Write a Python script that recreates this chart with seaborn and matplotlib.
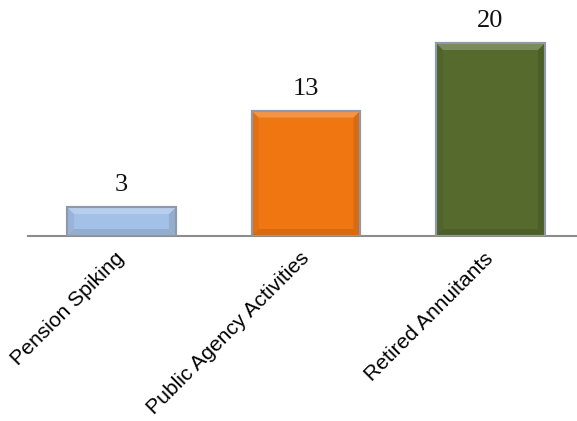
import matplotlib
matplotlib.use("Agg")
import matplotlib.pyplot as plt
import matplotlib.colors as mcolors
from matplotlib.patches import Polygon
import numpy as np
import seaborn as sns
import pandas as pd

categories = ["Pension Spiking", "Public Agency Activities", "Retired Annuitants"]
values = [3, 13, 20]
colors = ["#a3c0e6", "#f07612", "#566a2e"]

sns.set_theme(style="white")
plt.rcParams['font.family'] = ['Liberation Sans', 'DejaVu Sans']

df = pd.DataFrame({"category": categories, "value": values})

fig = plt.figure(figsize=(5.77, 4.21), dpi=100)
ax = fig.add_axes([28/577, (421-236)/421, 549/577, 236/421])

sns.barplot(data=df, x="category", y="value", hue="category", palette=colors,
            legend=False, width=0.59, ax=ax, edgecolor="#8e9aab", linewidth=1.5,
            saturation=1)

ax.set_xlim(-0.507, 2.469)
ax.set_ylim(0, 24.46)

# subtle bevel effect derived from drawn bar patches
fig.canvas.draw()
inv = ax.transData.inverted()
bev_px = 7
for patch, col in zip(ax.patches, colors):
    x0, y0 = patch.get_x(), patch.get_y()
    w, h = patch.get_width(), patch.get_height()
    p0 = ax.transData.transform((x0, y0))
    dx = inv.transform((p0[0] + bev_px, p0[1]))[0] - x0
    dy = inv.transform((p0[0], p0[1] + bev_px))[1] - y0
    dy = min(dy, h / 2.5)
    rgb = np.array(mcolors.to_rgb(col))
    light = tuple(rgb + (1 - rgb) * 0.22)
    dark = tuple(rgb * 0.94)
    darker = tuple(rgb * 0.9)
    x1, y1 = x0 + w, y0 + h
    top = [(x0, y1), (x1, y1), (x1 - dx, y1 - dy), (x0 + dx, y1 - dy)]
    left = [(x0, y0), (x0, y1), (x0 + dx, y1 - dy), (x0 + dx, y0 + dy)]
    right = [(x1, y0), (x1, y1), (x1 - dx, y1 - dy), (x1 - dx, y0 + dy)]
    bottom = [(x0, y0), (x1, y0), (x1 - dx, y0 + dy), (x0 + dx, y0 + dy)]
    for pts, c in [(left, dark), (right, darker), (bottom, darker), (top, light)]:
        ax.add_patch(Polygon(pts, closed=True, facecolor=c, edgecolor="none",
                             zorder=patch.get_zorder() + 0.1))
    ax.add_patch(Polygon([(x0, y0), (x1, y0), (x1, y1), (x0, y1)], closed=True,
                         facecolor="none", edgecolor="#8e9aab", linewidth=1.5,
                         zorder=patch.get_zorder() + 0.2))

for i, v in enumerate(values):
    ax.text(i, v + 1.65, str(v), ha="center", va="baseline",
            fontsize=19, family=["Liberation Serif", "DejaVu Serif"], color="#111111")

ax.set_xlabel("")
ax.set_ylabel("")
ax.set_yticks([])
for s in ["top", "right", "left"]:
    ax.spines[s].set_visible(False)
ax.spines["bottom"].set_color("#8c8c8c")
ax.spines["bottom"].set_linewidth(1.5)
ax.spines["bottom"].set_zorder(0.5)
ax.tick_params(axis="x", length=0, pad=14)
ax.set_xticks(range(len(categories)))
ax.set_xticklabels(categories, rotation=45, ha="right", va="center",
                   rotation_mode="anchor", fontsize=15.2, color="#000000")

fig.savefig("out.png", dpi=100)
